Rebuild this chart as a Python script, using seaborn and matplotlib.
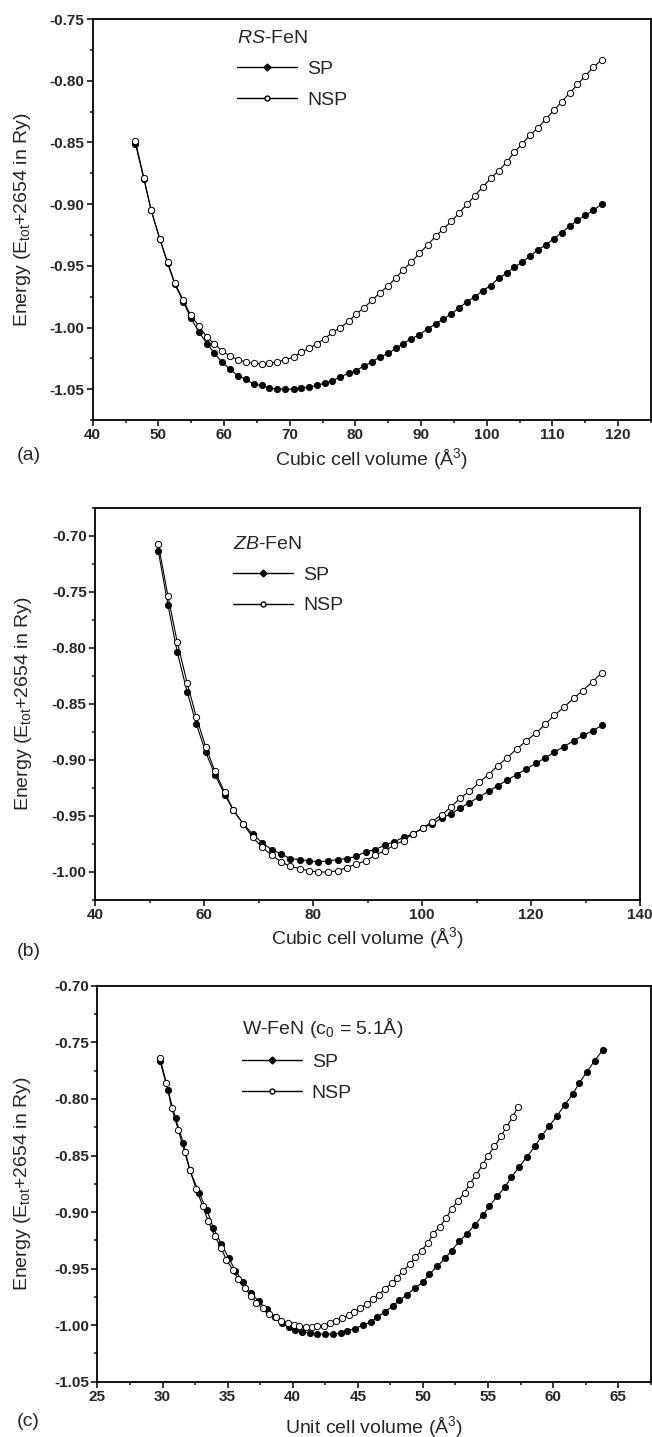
import numpy as np
import pandas as pd
import matplotlib.pyplot as plt
import seaborn as sns
from matplotlib.lines import Line2D
from matplotlib.ticker import MultipleLocator, FormatStrFormatter

sns.set_style("ticks")
plt.rcParams["font.family"] = ["Liberation Sans", "DejaVu Sans"]
plt.rcParams["mathtext.fontset"] = "custom"
plt.rcParams["mathtext.rm"] = "Liberation Sans"
plt.rcParams["mathtext.it"] = "Liberation Sans:italic"
plt.rcParams["mathtext.bf"] = "Liberation Sans:bold"
plt.rcParams["axes.unicode_minus"] = False

# ---------------- data ----------------
# (a) RS-FeN
rs_vol = [46.5, 47.8, 48.9, 50.2, 51.4, 52.5, 53.8, 54.9, 56.2, 57.4,
          58.5, 59.7, 60.9, 62.1, 63.3, 64.5, 65.7, 66.9, 68.1, 69.3,
          70.6, 71.7, 73.0, 74.1, 75.3, 76.5, 77.7, 79.0, 80.1, 81.3,
          82.5, 83.7, 85.0, 86.1, 87.3, 88.5, 89.7, 91.0, 92.2, 93.4,
          94.6, 95.8, 97.0, 98.2, 99.4, 100.6, 101.8, 103.0, 104.2, 105.4,
          106.6, 107.8, 109.0, 110.2, 111.4, 112.6, 113.8, 115.0, 116.2, 117.5]
rs_sp = [-0.851, -0.880, -0.905, -0.928, -0.948, -0.965, -0.979, -0.992, -1.004, -1.013,
         -1.021, -1.028, -1.034, -1.039, -1.042, -1.046, -1.047, -1.049, -1.050, -1.050,
         -1.050, -1.049, -1.048, -1.047, -1.045, -1.043, -1.040, -1.037, -1.035, -1.031,
         -1.028, -1.024, -1.021, -1.017, -1.013, -1.009, -1.006, -1.001, -0.997, -0.993,
         -0.989, -0.984, -0.979, -0.975, -0.970, -0.966, -0.960, -0.956, -0.951, -0.947,
         -0.942, -0.937, -0.933, -0.928, -0.923, -0.918, -0.913, -0.909, -0.905, -0.900]
rs_nsp = [-0.849, -0.879, -0.905, -0.928, -0.947, -0.964, -0.978, -0.990, -0.999, -1.008,
          -1.013, -1.019, -1.023, -1.026, -1.028, -1.029, -1.0295, -1.029, -1.028, -1.026,
          -1.024, -1.020, -1.017, -1.013, -1.009, -1.004, -1.000, -0.995, -0.989, -0.984,
          -0.978, -0.972, -0.966, -0.960, -0.953, -0.947, -0.940, -0.933, -0.926, -0.920,
          -0.914, -0.907, -0.900, -0.893, -0.886, -0.879, -0.873, -0.866, -0.858, -0.851,
          -0.844, -0.838, -0.831, -0.824, -0.817, -0.810, -0.803, -0.796, -0.789, -0.783]

# (b) ZB-FeN
zb_vol = [51.6, 53.4, 55.1, 56.9, 58.6, 60.3, 62.0, 63.8, 65.4, 67.2,
          68.9, 70.7, 72.4, 74.2, 75.8, 77.6, 79.3, 81.0, 82.7, 84.5,
          86.2, 87.9, 89.7, 91.4, 93.2, 94.9, 96.6, 98.3, 100.1, 101.8,
          103.6, 105.3, 107.0, 108.7, 110.5, 112.2, 113.9, 115.6, 117.4, 119.1,
          120.9, 122.6, 124.3, 126.0, 127.8, 129.5, 131.3, 133.0]
zb_sp = [-0.713, -0.762, -0.804, -0.839, -0.868, -0.893, -0.913, -0.931, -0.945, -0.957,
         -0.966, -0.974, -0.980, -0.984, -0.988, -0.989, -0.990, -0.991, -0.990, -0.989,
         -0.988, -0.986, -0.982, -0.980, -0.976, -0.973, -0.969, -0.966, -0.961, -0.957,
         -0.952, -0.948, -0.943, -0.938, -0.933, -0.928, -0.923, -0.918, -0.913, -0.908,
         -0.903, -0.898, -0.893, -0.888, -0.883, -0.878, -0.874, -0.869]
zb_nsp = [-0.707, -0.754, -0.795, -0.831, -0.862, -0.888, -0.910, -0.929, -0.945, -0.957,
          -0.969, -0.978, -0.985, -0.991, -0.995, -0.997, -0.999, -1.000, -1.000, -0.999,
          -0.996, -0.993, -0.990, -0.985, -0.981, -0.976, -0.972, -0.966, -0.961, -0.955,
          -0.949, -0.942, -0.934, -0.928, -0.920, -0.913, -0.905, -0.898, -0.890, -0.883,
          -0.876, -0.868, -0.860, -0.853, -0.845, -0.838, -0.830, -0.822]

# (c) W-FeN
w_sp_vol = [29.8, 30.4, 31.0, 31.6, 32.1, 32.8, 33.4, 33.9, 34.5, 35.1,
            35.6, 36.2, 36.8, 37.4, 38.0, 38.6, 39.2, 39.7, 40.2, 40.7,
            41.3, 41.9, 42.5, 43.1, 43.7, 44.2, 44.8, 45.4, 46.0, 46.5,
            47.1, 47.7, 48.2, 48.8, 49.4, 50.0, 50.5, 51.1, 51.7, 52.2,
            52.8, 53.4, 54.0, 54.6, 55.1, 55.7, 56.3, 56.8, 57.4, 58.0,
            58.6, 59.1, 59.7, 60.3, 60.9, 61.5, 62.0, 62.6, 63.2, 63.8]
w_sp = [-0.766, -0.792, -0.817, -0.839, -0.863, -0.883, -0.898, -0.914, -0.928, -0.941,
        -0.952, -0.962, -0.972, -0.979, -0.986, -0.993, -0.998, -1.002, -1.004, -1.006,
        -1.007, -1.008, -1.008, -1.008, -1.007, -1.005, -1.003, -1.000, -0.997, -0.993,
        -0.988, -0.983, -0.978, -0.973, -0.967, -0.962, -0.955, -0.948, -0.941, -0.934,
        -0.926, -0.919, -0.911, -0.903, -0.895, -0.886, -0.878, -0.869, -0.860, -0.851,
        -0.842, -0.833, -0.824, -0.815, -0.805, -0.796, -0.786, -0.776, -0.766, -0.757]
w_nsp_vol = [29.8, 30.3, 30.7, 31.2, 31.7, 32.1, 32.6, 33.1, 33.5, 34.0,
             34.5, 34.9, 35.4, 35.8, 36.3, 36.8, 37.2, 37.7, 38.2, 38.7,
             39.1, 39.6, 40.1, 40.5, 41.0, 41.5, 41.9, 42.4, 42.9, 43.3,
             43.8, 44.3, 44.7, 45.2, 45.7, 46.2, 46.6, 47.1, 47.6, 48.0,
             48.5, 49.0, 49.4, 49.9, 50.4, 50.8, 51.3, 51.8, 52.2, 52.7,
             53.2, 53.6, 54.1, 54.6, 55.0, 55.5, 56.0, 56.4, 56.9, 57.3]
w_nsp = [-0.764, -0.786, -0.808, -0.827, -0.847, -0.863, -0.880, -0.895, -0.908, -0.921,
         -0.932, -0.942, -0.951, -0.959, -0.967, -0.974, -0.980, -0.985, -0.990, -0.993,
         -0.996, -0.998, -1.000, -1.001, -1.002, -1.002, -1.001, -1.001, -0.998, -0.996,
         -0.994, -0.991, -0.988, -0.985, -0.981, -0.977, -0.973, -0.968, -0.963, -0.958,
         -0.952, -0.946, -0.940, -0.934, -0.927, -0.919, -0.913, -0.905, -0.897, -0.890,
         -0.883, -0.875, -0.867, -0.858, -0.850, -0.842, -0.833, -0.825, -0.816, -0.807]

ylabel = "Energy (E$_{\\mathrm{tot}}$+2654 in Ry)"


def draw_panel(ax, x_sp, y_sp, x_nsp, y_nsp, title, xlabel, xlim, ylim,
               xmaj, ymaj, leg_anchor, ylab_x, xlab_y):
    sns.lineplot(x=x_sp, y=y_sp, ax=ax, color="black", linewidth=0.8,
                 marker="o", markersize=4.5, markerfacecolor="black",
                 markeredgecolor="black", markeredgewidth=0.6)
    sns.lineplot(x=x_nsp, y=y_nsp, ax=ax, color="black", linewidth=0.8,
                 marker="o", markersize=4.5, markerfacecolor="white",
                 markeredgecolor="black", markeredgewidth=0.7)

    ax.set_xlim(xlim)
    ax.set_ylim(ylim)
    ax.xaxis.set_major_locator(MultipleLocator(xmaj))
    ax.xaxis.set_minor_locator(MultipleLocator(xmaj / 2))
    ax.yaxis.set_major_locator(MultipleLocator(ymaj))
    ax.yaxis.set_minor_locator(MultipleLocator(ymaj / 2))
    ax.yaxis.set_major_formatter(FormatStrFormatter("%.2f"))
    ax.xaxis.set_major_formatter(FormatStrFormatter("%d"))

    for s in ax.spines.values():
        s.set_visible(True)
        s.set_linewidth(1.3)
        s.set_color("black")
    ax.tick_params(which="major", direction="out", length=4, width=1.3,
                   labelsize=11, pad=2)
    ax.tick_params(which="minor", direction="out", length=2.5, width=1.2)
    for lab in ax.get_xticklabels() + ax.get_yticklabels():
        lab.set_fontweight("bold")

    ax.set_xlabel(xlabel, fontsize=14, va="center")
    ax.set_ylabel(ylabel, fontsize=14, va="center")
    ax.xaxis.set_label_coords(0.5, xlab_y)
    ax.yaxis.set_label_coords(ylab_x, 0.5)

    handles = [
        Line2D([], [], color="black", lw=1.0, marker="D", markersize=3.5,
               markerfacecolor="black", markeredgecolor="black"),
        Line2D([], [], color="black", lw=1.0, marker="o", markersize=3.5,
               markerfacecolor="white", markeredgecolor="black"),
    ]
    ax.legend(handles, ["SP", "NSP"], title=title, loc="upper left",
              bbox_to_anchor=leg_anchor, frameon=False, fontsize=14,
              title_fontsize=14, handlelength=3.1, handletextpad=0.5,
              labelspacing=0.68, borderpad=0, borderaxespad=0,
              alignment="left")


fig = plt.figure(figsize=(6.52, 14.37), dpi=100)
ax_a = fig.add_axes([0.1422, 0.7077, 0.8563, 0.2790])
ax_b = fig.add_axes([0.1457, 0.3737, 0.8360, 0.2728])
ax_c = fig.add_axes([0.1495, 0.0385, 0.8485, 0.2754])

draw_panel(ax_a, rs_vol, rs_sp, rs_vol, rs_nsp, "$RS$-FeN",
           "Cubic cell volume (Å$^3$)", (40, 125), (-1.075, -0.75),
           10, 0.05, (0.2585, 0.9725), -0.125, -0.097)
draw_panel(ax_b, zb_vol, zb_sp, zb_vol, zb_nsp, "$ZB$-FeN",
           "Cubic cell volume (Å$^3$)", (40, 140), (-1.025, -0.675),
           20, 0.05, (0.2533, 0.929), -0.131, -0.097)
draw_panel(ax_c, w_sp_vol, w_sp, w_nsp_vol, w_nsp, "W-FeN (c$_0$ = 5.1Å)",
           "Unit cell volume (Å$^3$)", (25, 67.5), (-1.05, -0.70),
           5, 0.05, (0.261, 0.924), -0.1347, -0.114)

fig.text(17 / 652, 1 - 455 / 1437, "(a)", fontsize=14, va="center", ha="left")
fig.text(17 / 652, 1 - 952 / 1437, "(b)", fontsize=14, va="center", ha="left")
fig.text(17 / 652, 1 - 1422 / 1437, "(c)", fontsize=14, va="center", ha="left")

fig.savefig("out.png", dpi=100)
